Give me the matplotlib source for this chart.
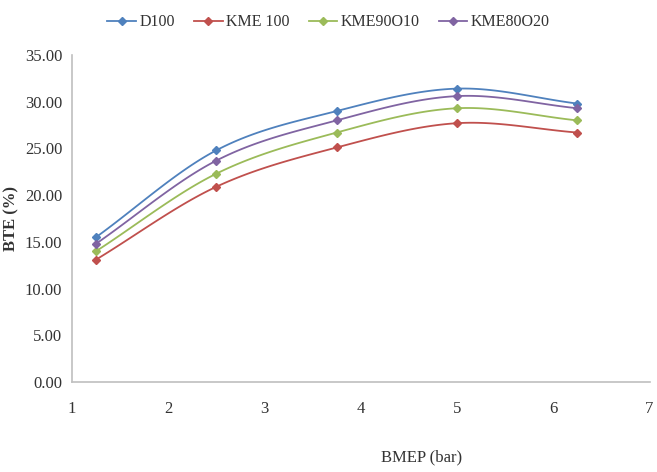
import numpy as np
import matplotlib
matplotlib.use("Agg")
import matplotlib.pyplot as plt

plt.rcParams['font.family'] = ['Liberation Serif', 'DejaVu Serif']

# data
bmep = [1.25, 2.5, 3.75, 5.0, 6.25]
d100 = [15.5, 24.8, 29.0, 31.4, 29.8]
kme100 = [13.1, 20.9, 25.1, 27.7, 26.7]
kme90o10 = [14.0, 22.3, 26.7, 29.3, 28.0]
kme80o20 = [14.8, 23.7, 28.0, 30.6, 29.3]

series = [
    ("D100", d100, "#4F81BD"),
    ("KME 100", kme100, "#C0504D"),
    ("KME90O10", kme90o10, "#9BBB59"),
    ("KME80O20", kme80o20, "#8064A2"),
]


# Excel style smoothed line (Catmull-Rom through the points)
def smooth(x, y, n=30):
    x = np.asarray(x, float)
    y = np.asarray(y, float)
    px = np.concatenate([[2 * x[0] - x[1]], x, [2 * x[-1] - x[-2]]])
    py = np.concatenate([[2 * y[0] - y[1]], y, [2 * y[-1] - y[-2]]])
    xs, ys = [], []
    t = np.linspace(0, 1, n)
    for i in range(1, len(px) - 2):
        for arr, out in ((px, xs), (py, ys)):
            p0, p1, p2, p3 = arr[i - 1], arr[i], arr[i + 1], arr[i + 2]
            out.append(0.5 * (2 * p1 + (-p0 + p2) * t
                              + (2 * p0 - 5 * p1 + 4 * p2 - p3) * t ** 2
                              + (-p0 + 3 * p1 - 3 * p2 + p3) * t ** 3))
    return np.concatenate(xs), np.concatenate(ys)


fig = plt.figure(figsize=(6.57, 4.72), dpi=100)
ax = fig.add_axes([0.1096, 0.1907, 0.879, 0.6928])

for name, vals, col in series:
    sx, sy = smooth(bmep, vals)
    ax.plot(sx, sy, color=col, lw=1.3)
    ax.plot(bmep, vals, linestyle='none', marker='D', ms=4, color=col)
    ax.plot([], [], color=col, lw=1.3, marker='D', ms=4, label=name)

ax.set_xlim(1, 7)
ax.set_ylim(0, 35)
ax.set_yticks(np.arange(0, 35.1, 5))
ax.set_yticklabels(["%.2f" % v for v in np.arange(0, 35.1, 5)])
ax.set_xticks(range(1, 8))

for s in ['top', 'right']:
    ax.spines[s].set_visible(False)
for s in ['left', 'bottom']:
    ax.spines[s].set_color('#BFBFBF')
    ax.spines[s].set_linewidth(1.2)
ax.tick_params(length=0, labelsize=12, colors='#333333')
ax.tick_params(axis='y', pad=7)
ax.tick_params(axis='x', pad=14)

ax.set_ylabel("BTE (%)", fontsize=12, fontweight='bold', color='#333333', labelpad=4)
ax.set_xlabel("BMEP (bar)", fontsize=12, color='#333333')
ax.xaxis.set_label_coords(0.605, -0.205)

fig.legend(loc='upper center', bbox_to_anchor=(0.5, 1.0), ncol=4, frameon=False,
           fontsize=11.5, handlelength=1.8, handletextpad=0.2, columnspacing=1.2,
           labelcolor='#333333')

fig.savefig("out.png", dpi=100)
